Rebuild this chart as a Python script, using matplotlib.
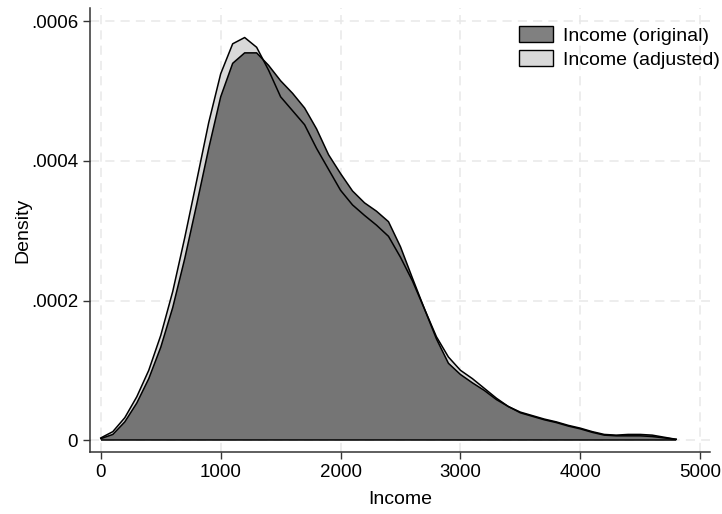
import numpy as np
import matplotlib
matplotlib.use("Agg")
import matplotlib.pyplot as plt
from matplotlib.ticker import FuncFormatter
from matplotlib.patches import Patch

plt.rcParams['font.family'] = ['Liberation Sans', 'DejaVu Sans']

# kernel density estimates on a grid of income values
income_grid = [0, 100, 200, 300, 400, 500, 600, 700, 800, 900,
               1000, 1100, 1200, 1300, 1400, 1500, 1600, 1700, 1800, 1900,
               2000, 2100, 2200, 2300, 2400, 2500, 2600, 2700, 2800, 2900,
               3000, 3100, 3200, 3300, 3400, 3500, 3600, 3700, 3800, 3900,
               4000, 4100, 4200, 4300, 4400, 4500, 4600, 4700, 4800]

dens_original = [0.000002, 0.000008, 0.000026, 0.000053, 0.000088, 0.000133, 0.000190, 0.000260, 0.000338, 0.000418,
                 0.000492, 0.000540, 0.000555, 0.000555, 0.000537, 0.000515, 0.000497, 0.000476, 0.000446, 0.000409,
                 0.000382, 0.000357, 0.000340, 0.000328, 0.000313, 0.000277, 0.000232, 0.000188, 0.000145, 0.000110,
                 0.000094, 0.000082, 0.000071, 0.000058, 0.000048, 0.000040, 0.000035, 0.000030, 0.000026, 0.000021,
                 0.000017, 0.000012, 0.000008, 0.000007, 0.000008, 0.000008, 0.000007, 0.000004, 0.000001]

dens_adjusted = [0.000003, 0.000012, 0.000032, 0.000062, 0.000100, 0.000150, 0.000213, 0.000290, 0.000372, 0.000455,
                 0.000525, 0.000568, 0.000577, 0.000563, 0.000530, 0.000492, 0.000472, 0.000452, 0.000418, 0.000388,
                 0.000358, 0.000337, 0.000322, 0.000308, 0.000292, 0.000262, 0.000228, 0.000188, 0.000148, 0.000119,
                 0.000100, 0.000088, 0.000074, 0.000060, 0.000048, 0.000039, 0.000034, 0.000029, 0.000025, 0.000020,
                 0.000016, 0.000011, 0.000007, 0.000006, 0.000006, 0.000006, 0.000005, 0.000003, 0.000001]

x_ticks = [0, 1000, 2000, 3000, 4000, 5000]
y_ticks = [0, 0.0002, 0.0004, 0.0006]

fig = plt.figure(figsize=(7.22, 5.14), dpi=100)
ax = fig.add_axes([0.1247, 0.1206, 0.8583, 0.8634])

ax.fill_between(income_grid, 0, dens_adjusted, facecolor='#d9d9d9', edgecolor='none', zorder=2)
ax.fill_between(income_grid, 0, dens_original, facecolor='#4c4c4c', alpha=0.71,
                edgecolor='none', zorder=3)
# outlines on top of both fills
ax.plot(income_grid, dens_adjusted, color='black', linewidth=1.1, zorder=4)
ax.plot(income_grid, dens_original, color='black', linewidth=1.1, zorder=4)
ax.hlines(0, income_grid[0], income_grid[-1], color='black', linewidth=1.1, zorder=4)

ax.set_xlim(-90, 5080)
ax.set_ylim(-0.0000172, 0.000619)
ax.set_xticks(x_ticks)
ax.set_yticks(y_ticks)
ax.yaxis.set_major_formatter(FuncFormatter(lambda v, p: '0' if v == 0 else f'{v:.4f}'.lstrip('0')))

ax.grid(True, color='#e8e8e8', linestyle=(0, (6, 4)), linewidth=1.1, zorder=0)
ax.set_axisbelow(True)
for side in ['top', 'right']:
    ax.spines[side].set_visible(False)
for side in ['left', 'bottom']:
    ax.spines[side].set_color('#333333')
    ax.spines[side].set_linewidth(1.1)
ax.tick_params(axis='both', labelsize=13.5, length=5, color='#333333', width=1.0)

ax.set_xlabel('Income', fontsize=14, labelpad=7)
ax.set_ylabel('Density', fontsize=14, labelpad=0)

handles = [Patch(facecolor='#808080', edgecolor='black', linewidth=1.0, label='Income (original)'),
           Patch(facecolor='#d9d9d9', edgecolor='black', linewidth=1.0, label='Income (adjusted)')]
ax.legend(handles=handles, loc='upper right', bbox_to_anchor=(1.045, 1.0), frameon=False,
          fontsize=14, handlelength=1.75, handleheight=0.9, labelspacing=0.3, handletextpad=0.55)

fig.savefig('out.png', dpi=100)
